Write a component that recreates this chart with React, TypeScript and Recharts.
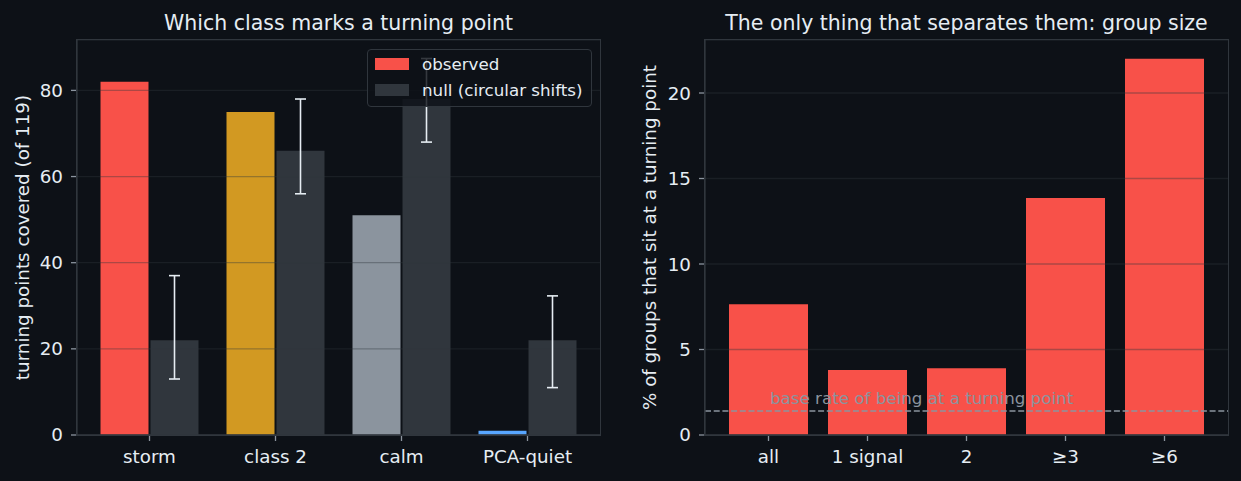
import React from 'react';
import {
  BarChart,
  Bar,
  XAxis,
  YAxis,
  CartesianGrid,
  ErrorBar,
  Cell,
  ReferenceLine,
} from 'recharts';

// ---- Left panel data ----
const classes = ['storm', 'class 2', 'calm', 'PCA-quiet'];
const observed = [82, 75, 51, 1];
const observedColors = ['#f85149', '#d29922', '#8b949e', '#58a6ff'];
const nullMean = [22, 66, 78, 22];
const nullLow = [13, 56, 68, 11];
const nullHigh = [37, 78, 87.4, 32.3];
const leftTicks = [0, 20, 40, 60, 80];

// ---- Right panel data ----
const groups = ['all', '1 signal', '2', '≥3', '≥6'];
const groupPct = [7.65, 3.8, 3.9, 13.86, 22];
const baseRate = 1.4;
const rightTicks = [0, 5, 10, 15, 20];

const leftData = classes.map((c, i) => ({
  name: c,
  observed: observed[i],
  nullv: nullMean[i],
  err: [nullMean[i] - nullLow[i], nullHigh[i] - nullMean[i]],
}));

const rightData = groups.map((g, i) => ({ name: g, pct: groupPct[i] }));

const BG = '#0d1117';
const SPINE = '#30363d';
const TEXT = '#e6edf3';
const MUTED = '#8b949e';
const FONT = 'DejaVu Sans, sans-serif';
const TICK_FS = 18.3;

const tickStyle = { fill: TEXT, fontSize: TICK_FS, fontFamily: FONT };

const YLabel = (text: string, dx: number) => (props: any) => {
  const vb = props.viewBox || { x: 0, y: 0, width: 0, height: 0 };
  const cx = vb.x + dx;
  const cy = vb.y + vb.height / 2;
  return (
    <text
      x={cx}
      y={cy}
      transform={`rotate(-90, ${cx}, ${cy})`}
      textAnchor="middle"
      dominantBaseline="central"
      fill={TEXT}
      fontSize={TICK_FS}
      fontFamily={FONT}
    >
      {text}
    </text>
  );
};

const BaseLabel = (props: any) => {
  const vb = props.viewBox || { x: 0, y: 0 };
  return (
    <text x={vb.x + 65} y={vb.y - 7.5} fill={MUTED} fontSize={16.7} fontFamily={FONT}>
      base rate of being at a turning point
    </text>
  );
};

const Frame = ({ left, top, width, height }: { left: number; top: number; width: number; height: number }) => (
  <div
    style={{
      position: 'absolute',
      left: left - 0.65,
      top: top - 0.65,
      width: width + 1.3,
      height: height + 1.3,
      boxSizing: 'border-box',
      border: `1.3px solid ${SPINE}`,
      pointerEvents: 'none',
    }}
  />
);

export default function App() {
  return (
    <div
      style={{
        position: 'absolute',
        left: 0,
        top: 0,
        width: 1241,
        height: 481,
        background: BG,
        fontFamily: FONT,
        overflow: 'hidden',
      }}
    >
      {/* Left chart */}
      <div style={{ position: 'absolute', left: 0, top: 0 }}>
        <BarChart
          width={620}
          height={481}
          data={leftData}
          margin={{ top: 40, right: 20, bottom: 0, left: 0 }}
          barGap={2}
          barSize={48}
        >
          <XAxis
            dataKey="name"
            height={46}
            interval={0}
            padding={{ left: 9.5, right: 9.5 }}
            tick={tickStyle}
            tickSize={6}
            tickMargin={9}
            axisLine={{ stroke: SPINE, strokeWidth: 1.3 }}
            tickLine={{ stroke: MUTED, strokeWidth: 1.3 }}
          />
          <YAxis
            width={77}
            domain={[0, 91.7]}
            ticks={leftTicks}
            tick={tickStyle}
            tickSize={6}
            tickMargin={8}
            axisLine={{ stroke: SPINE, strokeWidth: 1.3 }}
            tickLine={{ stroke: MUTED, strokeWidth: 1.3 }}
            label={{ content: YLabel('turning points covered (of 119)', 22) }}
          />
          <Bar dataKey="observed" isAnimationActive={false}>
            {leftData.map((d, i) => (
              <Cell key={d.name} fill={observedColors[i]} />
            ))}
          </Bar>
          <Bar dataKey="nullv" fill="#30363d" isAnimationActive={false}>
            <ErrorBar dataKey="err" width={5.5} stroke={TEXT} strokeWidth={1.6} direction="y" />
          </Bar>
          <CartesianGrid
            vertical={false}
            stroke={SPINE}
            strokeOpacity={0.38}
            strokeWidth={1.3}
            {...({ zIndex: 350 } as any)}
          />
        </BarChart>
      </div>
      <Frame left={77} top={40} width={523} height={395} />

      {/* Right chart */}
      <div style={{ position: 'absolute', left: 620, top: 0 }}>
        <BarChart
          width={621}
          height={481}
          data={rightData}
          margin={{ top: 40, right: 13, bottom: 0, left: 0 }}
          barSize={79}
        >
          <XAxis
            dataKey="name"
            height={46}
            interval={0}
            padding={{ left: 14, right: 14 }}
            tick={tickStyle}
            tickSize={6}
            tickMargin={9}
            axisLine={{ stroke: SPINE, strokeWidth: 1.3 }}
            tickLine={{ stroke: MUTED, strokeWidth: 1.3 }}
          />
          <YAxis
            width={85}
            domain={[0, 23.1]}
            ticks={rightTicks}
            tick={tickStyle}
            tickSize={6}
            tickMargin={8}
            axisLine={{ stroke: SPINE, strokeWidth: 1.3 }}
            tickLine={{ stroke: MUTED, strokeWidth: 1.3 }}
            label={{ content: YLabel('% of groups that sit at a turning point', 29) }}
          />
          <Bar dataKey="pct" fill="#f85149" isAnimationActive={false} />
          <CartesianGrid
            vertical={false}
            stroke={SPINE}
            strokeOpacity={0.38}
            strokeWidth={1.3}
            {...({ zIndex: 350 } as any)}
          />
          <ReferenceLine
            y={baseRate}
            stroke={MUTED}
            strokeWidth={1.5}
            strokeDasharray="6 2.7"
            label={BaseLabel}
          />
        </BarChart>
      </div>
      <Frame left={705} top={40} width={523} height={395} />

      {/* Titles */}
      <svg
        width={1241}
        height={481}
        style={{ position: 'absolute', left: 0, top: 0, pointerEvents: 'none' }}
      >
        <text x={338.5} y={29.5} textAnchor="middle" fill={TEXT} fontSize={20.5} fontFamily={FONT}>
          Which class marks a turning point
        </text>
        <text x={966.5} y={29.5} textAnchor="middle" fill={TEXT} fontSize={20.5} fontFamily={FONT}>
          The only thing that separates them: group size
        </text>
      </svg>

      {/* Legend */}
      <div
        style={{
          position: 'absolute',
          left: 367,
          top: 49,
          width: 225,
          height: 58,
          boxSizing: 'border-box',
          border: `1.3px solid ${SPINE}`,
          borderRadius: 4,
          background: 'rgba(13,17,23,0.82)',
          fontFamily: FONT,
          fontSize: 16.7,
          color: TEXT,
        }}
      >
        {[
          { label: 'observed', color: '#f85149', top: 8 },
          { label: 'null (circular shifts)', color: '#30363d', top: 34 },
        ].map((it) => (
          <div key={it.label} style={{ position: 'absolute', left: 7, top: it.top, height: 12, width: 215 }}>
            <div style={{ position: 'absolute', left: 0, top: 0, width: 34, height: 12, background: it.color }} />
            <div
              style={{
                position: 'absolute',
                left: 47,
                top: -6,
                lineHeight: '24px',
                whiteSpace: 'nowrap',
              }}
            >
              {it.label}
            </div>
          </div>
        ))}
      </div>
    </div>
  );
}
